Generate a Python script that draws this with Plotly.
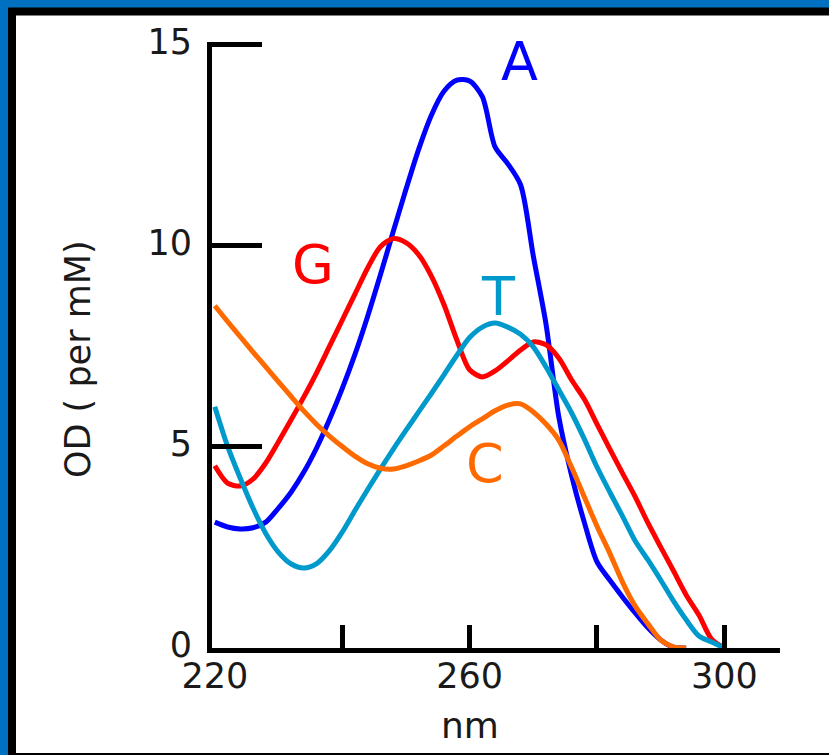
import plotly.graph_objects as go

# ---------------- data ----------------
wavelength = list(range(220, 301, 2))  # nm

od_A = [3.13, 3.01, 2.96, 2.99, 3.13, 3.48, 3.88, 4.38, 4.98, 5.68,
        6.45, 7.30, 8.25, 9.28, 10.35, 11.40, 12.40, 13.25, 13.85, 14.12,
        14.10, 13.71, 12.46, 12.04, 11.52, 9.75, 8.05, 5.75, 4.30, 3.13,
        2.14, 1.69, 1.27, 0.87, 0.50, 0.20, 0.02, 0.0]
od_G = [4.53, 4.10, 4.03, 4.20, 4.60, 5.13, 5.68, 6.25, 6.85, 7.50,
        8.15, 8.80, 9.45, 9.98, 10.18, 10.08, 9.78, 9.25, 8.53, 7.66,
        6.92, 6.74, 6.89, 7.14, 7.41, 7.61, 7.54, 7.21, 6.67, 6.19,
        5.57, 4.95, 4.35, 3.76, 3.11, 2.51, 1.92, 1.32, 0.82, 0.22, 0.0]
od_T = [6.00, 5.02, 4.22, 3.48, 2.85, 2.38, 2.09, 1.99, 2.10, 2.42,
        2.88, 3.42, 3.94, 4.45, 4.94, 5.41, 5.87, 6.33, 6.80, 7.28,
        7.72, 7.98, 8.08, 7.98, 7.80, 7.49, 6.99, 6.42, 5.85, 5.20,
        4.50, 3.88, 3.28, 2.66, 2.19, 1.69, 1.17, 0.70, 0.30, 0.15, 0.0]
od_C = [8.51, 8.12, 7.74, 7.36, 6.99, 6.62, 6.25, 5.89, 5.56, 5.27,
        5.01, 4.77, 4.58, 4.47, 4.45, 4.53, 4.65, 4.80, 5.03, 5.27,
        5.50, 5.70, 5.90, 6.04, 6.07, 5.87, 5.57, 5.17, 4.50, 3.76,
        3.03, 2.36, 1.64, 1.04, 0.60, 0.20, 0.03, 0.0]

series_names = ["A", "G", "T", "C"]

x_label_vals = [220, 260, 300]
x_label_text = ["220", "260", "300"]
x_mark_vals = [240, 260, 280, 300]
y_label_vals = [0, 5, 10, 15]
y_label_text = ["0", "5", "10", "15"]
y_mark_vals = [5, 10, 15]

x_title = "nm"
y_title = "OD ( per mM)"

# ---------------- style ----------------
COLORS = {"A": "#0000FF", "G": "#FF0000", "T": "#0099CC", "C": "#FF6A00"}
FRAME_BLUE = "#0070C0"
TXT = "#1a1a1a"
FONT = "DejaVu Sans"

X_RANGE = [219.56, 308.73]
Y_RANGE = [0, 15.07]

values = {"A": od_A, "G": od_G, "T": od_T, "C": od_C}

fig = go.Figure()
for name in series_names:
    vals = values[name]
    fig.add_trace(go.Scatter(
        x=wavelength[:len(vals)], y=vals, mode="lines", name=name,
        line=dict(color=COLORS[name], width=5, shape="spline", smoothing=0.8),
        hoverinfo="skip", showlegend=False))

# empty trace so the overlay (tick-mark) axes exist
fig.add_trace(go.Scatter(x=[], y=[], xaxis="x2", yaxis="y2",
                         showlegend=False, hoverinfo="skip"))

axis_common = dict(showgrid=False, zeroline=False)

fig.update_layout(
    width=829, height=755,
    margin=dict(l=212, r=49, t=42, b=107, pad=0),
    paper_bgcolor=FRAME_BLUE,
    plot_bgcolor="white",
    font=dict(family=FONT, color=TXT),
    showlegend=False,
    xaxis=dict(range=X_RANGE, showline=True, linecolor="black", linewidth=5,
               ticks="", tickmode="array", tickvals=x_label_vals,
               ticktext=x_label_text, tickfont=dict(size=35, family=FONT, color=TXT),
               ticklabelstandoff=-7, **axis_common),
    yaxis=dict(range=Y_RANGE, showline=True, linecolor="black", linewidth=5,
               ticks="", tickmode="array", tickvals=y_label_vals,
               ticktext=y_label_text, tickfont=dict(size=35, family=FONT, color=TXT),
               ticklabelstandoff=8, ticklabelshift=-3, **axis_common),
    xaxis2=dict(range=X_RANGE, overlaying="x", anchor="y2", side="bottom",
                showline=False, ticks="inside", ticklen=23, tickwidth=5,
                tickcolor="black", tickmode="array", tickvals=x_mark_vals,
                showticklabels=False, **axis_common),
    yaxis2=dict(range=Y_RANGE, overlaying="y", anchor="x2", side="left",
                showline=False, ticks="inside", ticklen=50, tickwidth=5,
                tickcolor="black", tickmode="array", tickvals=y_mark_vals,
                showticklabels=False, **axis_common),
    shapes=[dict(type="rect", xref="paper", yref="paper",
                 x0=-0.3521, x1=1.1056, y0=-0.1799, y1=1.0503,
                 fillcolor="white", line=dict(color="black", width=8),
                 layer="below")],
)

# axis titles
fig.add_annotation(text=x_title, xref="paper", yref="paper", x=0.4542, y=-0.128,
                   xanchor="center", yanchor="middle", showarrow=False,
                   font=dict(size=36, family=FONT, color=TXT))
fig.add_annotation(text=y_title, xref="paper", yref="paper", x=-0.2359, y=0.4769,
                   xanchor="center", yanchor="middle", textangle=-90, showarrow=False,
                   font=dict(size=35, family=FONT, color=TXT))

# curve labels
label_pos = {"A": (267.76, 14.58), "G": (235.42, 9.53),
             "T": (264.46, 8.73), "C": (262.42, 4.58)}
for name in series_names:
    lx, ly = label_pos[name]
    fig.add_annotation(text=name, x=lx, y=ly, xref="x", yref="y",
                       xanchor="center", yanchor="middle", showarrow=False,
                       font=dict(size=54, family=FONT, color=COLORS[name]))

fig.write_html(
    "out.html",
    config={"displayModeBar": False, "staticPlot": True},
    post_script="document.body.style.margin='0px';document.body.style.padding='0px';"
                "document.body.style.background='" + FRAME_BLUE + "';",
)
